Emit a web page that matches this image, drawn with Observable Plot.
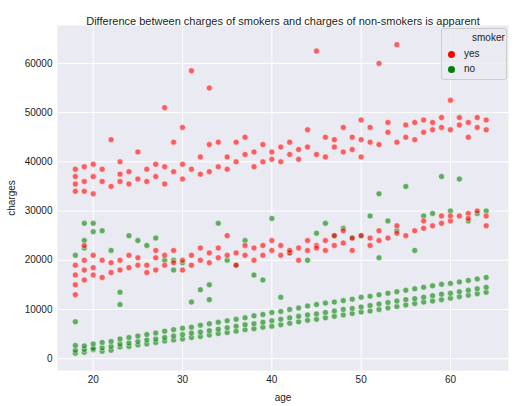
<!DOCTYPE html>
<html><head>
<script src="https://cdn.jsdelivr.net/npm/d3@7"></script>
<script src="https://cdn.jsdelivr.net/npm/@observablehq/plot@0.6"></script>
<style>
body{margin:0;background:#fff;font-family:"Liberation Sans",Arial,sans-serif;}
#wrap{position:relative;width:523px;height:406px;}
#legend{position:absolute;left:441px;top:28px;width:64px;height:50px;background:rgba(234,234,242,0.8);border:1px solid #ccc;border-radius:3px;font-size:10px;color:#222;}
#legend .t{position:absolute;left:30px;top:3px;}
#legend .r{position:absolute;left:6px;}
#legend .d{display:inline-block;width:7px;height:7px;border-radius:50%;margin-right:9px;vertical-align:-1px;}
</style>
</head><body>
<div id="wrap"><div id="chart"></div>
<div id="legend"><span class="t">smoker</span>
<div class="r" style="top:19px"><span class="d" style="background:red"></span>yes</div>
<div class="r" style="top:34px"><span class="d" style="background:green"></span>no</div></div></div>
<script>
// non-smokers, main band: [age, low, mid, high]
const noBand = [
[18,1100,1700,2700],[19,1300,1900,2600],[20,1800,2100,3000],[21,1500,2200,3300],[22,1700,2500,3500],
[23,2400,3000,4000],[24,2500,3200,4300],[25,2800,3500,4600],[26,3000,3800,4900],[27,3300,4000,5200],
[28,3600,4300,5600],[29,3800,4600,5900],[30,4000,4900,6200],[31,4300,5200,6400],[32,4500,5400,6800],
[33,4800,5700,7100],[34,5100,6000,7400],[35,5300,6300,7700],[36,5600,6600,8000],[37,5900,6900,8300],
[38,6100,7100,8700],[39,6400,7400,9000],[40,6600,7700,9400],[41,6900,8000,9600],[42,7200,8300,10000],
[43,7500,8600,10300],[44,7800,8900,10700],[45,8000,9100,11000],[46,8300,9400,11300],[47,8600,9700,11500],
[48,8900,10000,11800],[49,9200,10200,12100],[50,9500,10500,12500],[51,9700,10800,12700],[52,10000,11100,13000],
[53,10300,11400,13300],[54,10600,11700,13600],[55,10900,12000,13900],[56,11200,12200,14200],[57,11500,12500,14500],
[58,11700,12800,14800],[59,12000,13100,15100],[60,12300,13300,15300],[61,12600,13600,15600],[62,12900,13900,15900],
[63,13200,14200,16200],[64,13500,14500,16500]];
// non-smokers, scattered above the band
const noOutliers = [[18,21000],[18,7500],[19,22500],[19,24000],[19,27500],[20,27500],[20,25800],[21,26000],
[22,22000],[23,13500],[23,11000],[24,25000],[25,24000],[26,23000],[27,24500],[28,20000],[29,18000],[29,20000],
[30,19500],[31,11500],[32,14000],[33,15000],[33,12000],[34,27500],[35,20000],[36,19000],[37,24000],[38,17000],
[39,16000],[40,28500],[41,12500],[42,21500],[44,20000],[45,25500],[46,27500],[47,25000],[48,26500],[49,24500],
[50,25000],[51,29000],[52,33500],[53,28000],[54,26000],[55,35000],[57,29000],[58,29500],[59,37000],[60,30000],
[61,36500],[62,28000],[63,29500],[64,30000],[56,22000],[52,20500]];
// smokers, lower band
const yesLow = [[18,13000],[18,15000],[18,17000],[18,19000],[19,16000],[19,18000],[19,20000],[19,23000],
[20,17000],[20,18500],[20,21000],[21,16500],[21,20000],[22,17500],[22,19500],[23,18000],[23,20000],[24,18500],
[24,21000],[25,19000],[25,20500],[26,17500],[26,19000],[27,18000],[27,20500],[27,22000],[28,19000],[28,21000],
[29,19500],[29,22000],[30,18000],[30,20000],[31,19000],[31,21000],[32,20000],[32,22500],[33,19500],[33,21500],
[34,20500],[34,22500],[35,21000],[35,25000],[36,19000],[36,21500],[37,21000],[37,23000],[38,20000],[38,22500],
[39,21000],[39,23000],[40,22000],[40,24000],[41,21000],[41,23000],[42,21500],[42,22000],[43,20000],[43,22500],
[44,22000],[44,24000],[45,23000],[45,22500],[46,22000],[46,24000],[47,23000],[47,25000],[48,23500],[48,26000],
[49,22000],[49,24500],[50,25000],[51,23000],[51,24500],[52,24000],[52,26000],[53,24500],[54,25500],[54,27000],
[55,25000],[56,26000],[57,26500],[57,28000],[58,27000],[59,27500],[59,29000],[60,28000],[60,29000],[61,29000],
[62,29500],[62,28500],[63,30000],[64,27000],[64,29000]];
// smokers, upper band
const yesHigh = [[18,34000],[18,35500],[18,37000],[18,38500],[19,34000],[19,36000],[19,39000],[20,33500],
[20,37000],[20,39500],[21,36000],[21,38500],[22,35000],[22,44500],[23,36000],[23,37500],[23,40000],[24,35500],
[24,38000],[25,36500],[25,42000],[26,36000],[26,38500],[27,37000],[27,39500],[28,35500],[28,39000],[28,51000],
[29,38000],[29,44000],[30,36500],[30,39500],[30,47000],[31,38500],[31,58500],[32,37500],[32,41000],[33,38000],
[33,55000],[33,43500],[34,39000],[34,44000],[35,38500],[35,41000],[36,40000],[36,44000],[37,41500],[37,45000],
[38,39000],[38,42000],[39,40000],[39,43500],[40,40500],[40,42000],[41,40000],[41,43000],[42,41500],[42,44000],
[43,40500],[43,42500],[44,43000],[44,46500],[45,41500],[45,62500],[46,41000],[46,45000],[47,43000],[47,44500],
[48,42000],[48,47000],[49,42500],[49,45000],[50,41000],[50,44500],[50,48500],[51,44000],[51,47000],[52,43500],
[52,60000],[53,46000],[53,48000],[54,44000],[54,63800],[55,45000],[55,47500],[56,44500],[56,48000],[57,46000],
[57,48500],[58,46500],[58,48000],[59,47000],[59,49000],[60,46500],[60,52500],[61,47500],[61,49000],[62,45000],
[62,48000],[63,47000],[63,49000],[64,46500],[64,48500]];

const rows = [];
noBand.forEach(([a, ...cs]) => cs.forEach(c => rows.push({age: a, charges: c, smoker: "no"})));
noOutliers.forEach(([a, c]) => rows.push({age: a, charges: c, smoker: "no"}));
yesLow.concat(yesHigh).forEach(([a, c]) => rows.push({age: a, charges: c, smoker: "yes"}));

const yTicks = d3.range(0, 60001, 10000);
const chart = Plot.plot({
  width: 523, height: 406,
  marginTop: 25, marginLeft: 57, marginRight: 15, marginBottom: 36,
  style: {fontFamily: "Liberation Sans, Arial, sans-serif", fontSize: "10px", color: "#222"},
  x: {domain: [16, 66.5]},
  y: {domain: [-2400, 67700]},
  color: {domain: ["yes", "no"], range: ["red", "green"]},
  marks: [
    Plot.frame({fill: "#eaeaf2"}),
    Plot.gridX({ticks: [20, 30, 40, 50, 60], stroke: "white", strokeOpacity: 1, strokeWidth: 1}),
    Plot.gridY({ticks: yTicks, stroke: "white", strokeOpacity: 1, strokeWidth: 1}),
    Plot.axisX({ticks: [20, 30, 40, 50, 60], tickSize: 0, tickPadding: 5, label: "age", labelAnchor: "center", labelArrow: "none", labelOffset: 30}),
    Plot.axisY({ticks: yTicks, tickSize: 0, tickPadding: 5, tickFormat: d => String(d), label: "charges", labelAnchor: "center", labelArrow: "none", labelOffset: 50}),
    Plot.dot(rows, {x: "age", y: "charges", fill: "smoker", r: 3, fillOpacity: 0.6, stroke: "white", strokeWidth: 0.5}),
    Plot.text(["Difference between charges of smokers and charges of non-smokers is apparent"],
      {frameAnchor: "top", dy: -8, fontSize: 11, fill: "#222"})
  ]
});
document.getElementById("chart").append(chart);
</script>
</body></html>
